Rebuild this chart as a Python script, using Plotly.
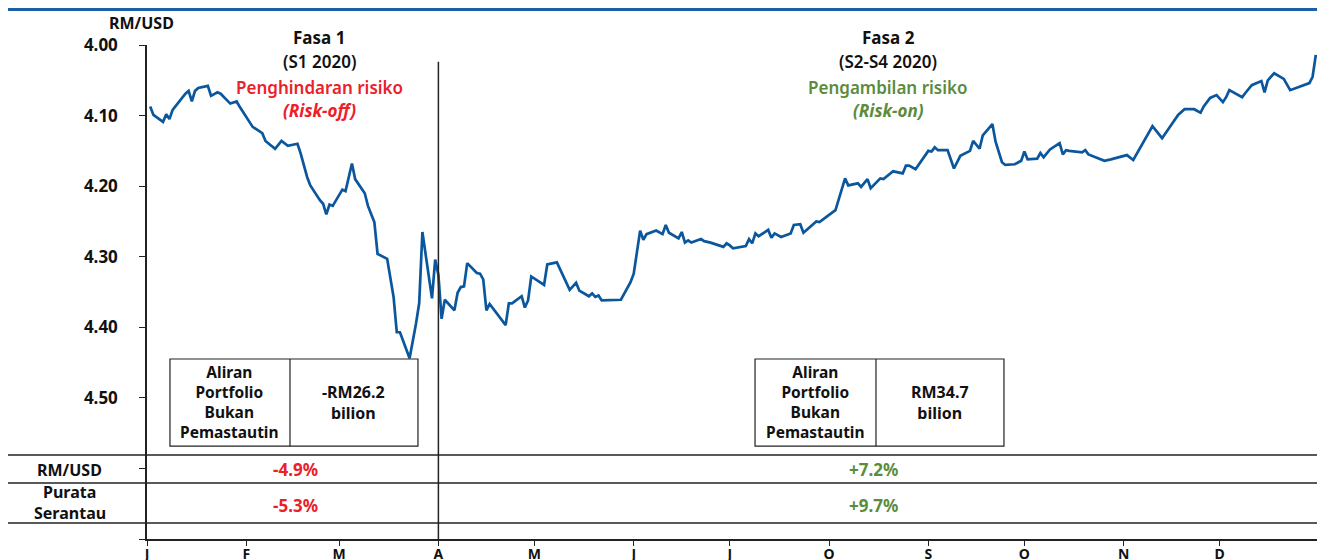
import plotly.graph_objects as go

# RM/USD daily rate, 2020
dates = [
    "2020-01-02", "2020-01-03", "2020-01-06", "2020-01-07", "2020-01-08", "2020-01-09",
    "2020-01-13", "2020-01-14", "2020-01-15", "2020-01-16", "2020-01-17", "2020-01-20",
    "2020-01-21", "2020-01-23", "2020-01-24", "2020-01-27", "2020-01-29", "2020-01-30",
    "2020-02-03", "2020-02-05", "2020-02-06", "2020-02-07", "2020-02-10", "2020-02-12",
    "2020-02-14", "2020-02-17", "2020-02-18", "2020-02-20", "2020-02-21", "2020-02-24",
    "2020-02-25", "2020-02-26", "2020-02-27", "2020-02-28", "2020-03-02", "2020-03-03",
    "2020-03-05", "2020-03-06", "2020-03-09", "2020-03-10", "2020-03-12", "2020-03-13",
    "2020-03-16", "2020-03-18", "2020-03-19", "2020-03-20", "2020-03-23", "2020-03-25",
    "2020-03-26", "2020-03-27", "2020-03-30", "2020-03-31", "2020-04-01", "2020-04-02",
    "2020-04-03", "2020-04-06", "2020-04-07", "2020-04-08", "2020-04-09", "2020-04-10",
    "2020-04-13", "2020-04-14", "2020-04-15", "2020-04-16", "2020-04-17", "2020-04-22",
    "2020-04-23", "2020-04-24", "2020-04-27", "2020-04-28", "2020-04-29", "2020-04-30",
    "2020-05-04", "2020-05-05", "2020-05-06", "2020-05-08", "2020-05-12", "2020-05-14",
    "2020-05-15", "2020-05-18", "2020-05-19", "2020-05-20", "2020-05-21", "2020-05-22",
    "2020-05-28", "2020-05-31", "2020-06-01", "2020-06-03", "2020-06-04", "2020-06-05",
    "2020-06-08", "2020-06-10", "2020-06-11", "2020-06-12", "2020-06-15", "2020-06-16",
    "2020-06-17", "2020-06-18", "2020-06-19", "2020-06-22", "2020-06-23", "2020-06-25",
    "2020-06-29", "2020-06-30", "2020-07-01", "2020-07-02", "2020-07-06", "2020-07-07",
    "2020-07-08", "2020-07-09", "2020-07-10", "2020-07-13", "2020-07-14", "2020-07-15",
    "2020-07-17", "2020-07-20", "2020-07-21", "2020-07-23", "2020-07-24", "2020-07-28",
    "2020-07-29", "2020-07-31", "2020-08-03", "2020-08-06", "2020-08-07", "2020-08-10",
    "2020-08-11", "2020-08-13", "2020-08-14", "2020-08-17", "2020-08-18", "2020-08-21",
    "2020-08-24", "2020-08-25", "2020-08-26", "2020-08-28", "2020-09-01", "2020-09-02",
    "2020-09-03", "2020-09-04", "2020-09-07", "2020-09-09", "2020-09-11", "2020-09-14",
    "2020-09-15", "2020-09-17", "2020-09-18", "2020-09-21", "2020-09-22", "2020-09-24",
    "2020-09-25", "2020-09-28", "2020-09-30", "2020-10-01", "2020-10-02", "2020-10-05",
    "2020-10-06", "2020-10-07", "2020-10-09", "2020-10-12", "2020-10-13", "2020-10-14",
    "2020-10-15", "2020-10-19", "2020-10-20", "2020-10-21", "2020-10-26", "2020-10-28",
    "2020-11-02", "2020-11-04", "2020-11-10", "2020-11-13", "2020-11-18", "2020-11-20",
    "2020-11-23", "2020-11-25", "2020-11-26", "2020-11-28", "2020-11-30", "2020-12-02",
    "2020-12-03", "2020-12-04", "2020-12-08", "2020-12-09", "2020-12-11", "2020-12-14",
    "2020-12-15", "2020-12-16", "2020-12-18", "2020-12-21", "2020-12-23", "2020-12-29",
    "2020-12-30", "2020-12-31",
]
rm_usd = [
    4.087, 4.099, 4.109, 4.098, 4.105, 4.092,
    4.069, 4.065, 4.080, 4.065, 4.061, 4.058,
    4.072, 4.067, 4.069, 4.083, 4.080, 4.088,
    4.116, 4.122, 4.125, 4.136, 4.147, 4.136,
    4.143, 4.140, 4.154, 4.187, 4.199, 4.220,
    4.225, 4.240, 4.226, 4.228, 4.205, 4.207,
    4.168, 4.190, 4.210, 4.228, 4.251, 4.296,
    4.303, 4.357, 4.407, 4.407, 4.444, 4.395,
    4.366, 4.265, 4.359, 4.304, 4.326, 4.388,
    4.361, 4.376, 4.351, 4.343, 4.342, 4.309,
    4.323, 4.324, 4.332, 4.376, 4.367, 4.397,
    4.366, 4.366, 4.356, 4.372, 4.362, 4.328,
    4.340, 4.311, 4.310, 4.308, 4.347, 4.337,
    4.348, 4.356, 4.352, 4.357, 4.355, 4.362,
    4.361, 4.336, 4.324, 4.263, 4.276, 4.268,
    4.263, 4.268, 4.255, 4.266, 4.274, 4.265,
    4.280, 4.277, 4.280, 4.275, 4.278, 4.280,
    4.286, 4.281, 4.284, 4.288, 4.285, 4.275,
    4.281, 4.267, 4.271, 4.262, 4.273, 4.267,
    4.272, 4.267, 4.255, 4.254, 4.266, 4.250,
    4.251, 4.244, 4.234, 4.189, 4.199, 4.196,
    4.201, 4.190, 4.203, 4.189, 4.190, 4.179,
    4.182, 4.171, 4.171, 4.176, 4.150, 4.151,
    4.145, 4.149, 4.149, 4.175, 4.157, 4.150,
    4.136, 4.147, 4.128, 4.112, 4.137, 4.166,
    4.170, 4.169, 4.164, 4.151, 4.162, 4.161,
    4.153, 4.159, 4.148, 4.139, 4.155, 4.149,
    4.150, 4.152, 4.149, 4.155, 4.164, 4.162,
    4.156, 4.163, 4.115, 4.132, 4.099, 4.091,
    4.091, 4.096, 4.087, 4.075, 4.071, 4.081,
    4.074, 4.064, 4.074, 4.068, 4.057, 4.051,
    4.067, 4.050, 4.040, 4.048, 4.064, 4.054,
    4.045, 4.014,
]

month_starts = ["2020-%02d-01" % m for m in range(1, 13)]
month_labels = ["J", "F", "M", "A", "M", "J", "J", "O", "S", "O", "N", "D"]
y_ticks = [4.0, 4.1, 4.2, 4.3, 4.4, 4.5, 4.6, 4.7]
y_labels = ["4.00", "4.10", "4.20", "4.30", "4.40", "4.50", "", ""]

row_labels = [["RM/USD"], ["Purata", "Serantau"]]
phase1_changes = ["-4.9%", "-5.3%"]
phase2_changes = ["+7.2%", "+9.7%"]
flow_label = "Aliran<br>Portfolio<br>Bukan<br>Pemastautin"
phase1_flow = "-RM26.2<br>bilion"
phase2_flow = "RM34.7<br>bilion"

BLUE = "#0b579e"
RED = "#ec2029"
GREEN = "#5b8c3c"
FONT = "Noto Sans"

fig = go.Figure()
fig.add_trace(go.Scatter(x=dates, y=rm_usd, mode="lines",
                         line=dict(color=BLUE, width=2.7), hoverinfo="x+y"))

# page body adds 8px around the figure, so the figure is 8px smaller
fig.update_layout(
    width=1317, height=552,
    margin=dict(l=139, r=6, t=37, b=21),
    paper_bgcolor="white", plot_bgcolor="white",
    showlegend=False,
    font=dict(family=FONT, color="#111111"),
    xaxis=dict(range=["2020-01-01", "2021-01-01"], tickvals=month_starts,
               ticktext=month_labels, ticks="outside", ticklen=5, tickcolor="#222",
               showline=True, linecolor="#222", linewidth=1.5, showgrid=False,
               zeroline=False, automargin=False, ticklabelstandoff=-4,
               tickfont=dict(size=14, weight="bold")),
    yaxis=dict(range=[4.7, 4.0], tickvals=y_ticks, ticktext=y_labels,
               ticks="outside", ticklen=6, tickcolor="#222",
               showline=True, linecolor="#222", linewidth=1.5, showgrid=False,
               zeroline=False, automargin=False, ticklabelstandoff=18,
               tickfont=dict(size=17, weight="bold")),
)

line_style = dict(color="#222222", width=1.5)

# top rule
fig.add_shape(type="line", xref="paper", yref="paper", x0=-0.12, x1=1.01,
              y0=1.0719, y1=1.0719, line=dict(color="#1d5fa5", width=3))

# phase divider
fig.add_shape(type="line", xref="x", yref="paper", x0="2020-04-01", x1="2020-04-01",
              y0=0, y1=0.966, line=line_style)

# table rows below the chart
for yy in [0.170, 0.1134, 0.0324]:
    fig.add_shape(type="line", xref="paper", yref="paper", x0=-0.1186, x1=1.01,
                  y0=yy, y1=yy, line=line_style)

# portfolio flow boxes
for x0, xm, x1 in [(0.0196, 0.122, 0.2312), (0.5188, 0.622, 0.7312)]:
    fig.add_shape(type="rect", xref="paper", yref="paper", x0=x0, x1=x1,
                  y0=0.188, y1=0.3644, line=dict(color="#222222", width=1.2),
                  fillcolor="white")
    fig.add_shape(type="line", xref="paper", yref="paper", x0=xm, x1=xm,
                  y0=0.188, y1=0.3644, line=dict(color="#222222", width=1.2))


def note(x, y, text, color="#111111", size=15, weight="bold", italic=False):
    fig.add_annotation(xref="paper", yref="paper", x=x, y=y, text=text,
                       showarrow=False, xanchor="center", yanchor="middle",
                       font=dict(family=FONT, size=size, color=color, weight=weight,
                                 style="italic" if italic else "normal"))


note(-0.0043, 1.045, "RM/USD", size=16)

note(0.1468, 1.0156, "Fasa 1", size=17)
note(0.1468, 0.966, "(S1 2020)", size=17, weight=600)
note(0.1468, 0.913, "Penghindaran risiko", color=RED, size=17, weight=600)
note(0.1468, 0.8684, "(Risk-off)", color=RED, size=17, italic=True)

note(0.6323, 1.0156, "Fasa 2", size=17)
note(0.6323, 0.966, "(S2-S4 2020)", size=17, weight=600)
note(0.6323, 0.913, "Pengambilan risiko", color=GREEN, size=17, weight=600)
note(0.6323, 0.8684, "(Risk-on)", color=GREEN, size=17, italic=True)

note(0.0708, 0.277, flow_label, size=15.5)
note(0.1766, 0.277, phase1_flow, size=16)
note(0.5700, 0.277, flow_label, size=15.5)
note(0.6766, 0.277, phase2_flow, size=16)

row_y = [0.1397, 0.0688]
label_y = [[0.1397], [0.0951, 0.0527]]
for lab, ly, c1, c2, yy in zip(row_labels, label_y, phase1_changes, phase2_changes, row_y):
    for part, py in zip(lab, ly):
        note(-0.0657, py, part, size=16)
    note(0.1263, yy, c1, color=RED, size=17)
    note(0.6195, yy, c2, color=GREEN, size=17)

fig.write_html("out.html")
